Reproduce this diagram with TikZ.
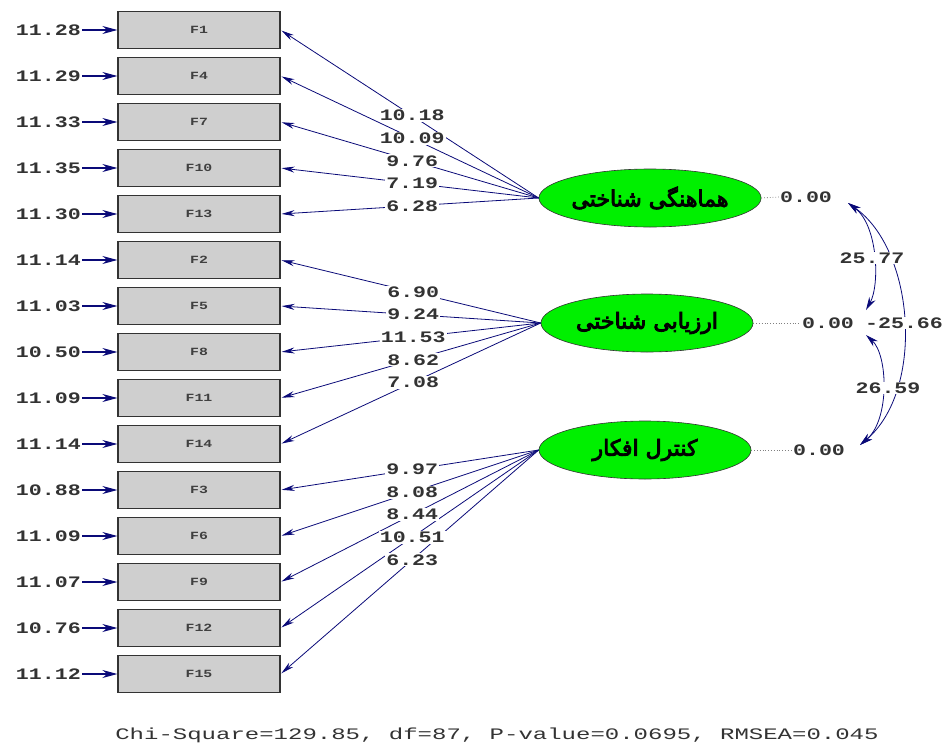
\documentclass[tikz,border=0pt]{standalone}
\usepackage{fontspec}
\usetikzlibrary{arrows.meta,shapes.geometric,calc}
\TeXXeTstate=1
\newfontfamily\arabicfont[Script=Arabic,FakeBold=4]{DejaVu Sans}
\newfontfamily\lisfont[FakeStretch=1.35]{Liberation Mono}
\newfontfamily\statfont[FakeStretch=1.5]{Liberation Mono}
\definecolor{lnavy}{RGB}{10,10,120}
\definecolor{lgreen}{RGB}{0,240,0}
\begin{document}
\begin{tikzpicture}[x=1pt,y=-1pt,
  obs/.style={draw=black!80, line width=1.2pt, fill=gray!38, minimum width=162pt, minimum height=37pt, inner sep=0pt, font=\lisfont\bfseries\fontsize{11}{11}\selectfont, text=black!75},
  lat/.style={ellipse, draw=black!80, line width=0.6pt, fill=lgreen, minimum width=212pt, minimum height=58pt, inner sep=0pt, font=\arabicfont\fontsize{22}{22}\selectfont},
  num/.style={font=\lisfont\bfseries\fontsize{16}{16}\selectfont, text=black!80, inner sep=1pt},
  numbg/.style={num, fill=white},
  load/.style={draw=lnavy, line width=0.8pt, -{Stealth[length=13pt,width=6pt]}, shorten >=1pt},
  err/.style={draw=lnavy, line width=1.3pt, -{Stealth[length=15pt,width=8pt]}},
  cov/.style={draw=lnavy, line width=0.8pt, {Stealth[length=13pt,width=7pt]}-{Stealth[length=13pt,width=7pt]}},
  zline/.style={draw=gray, dotted, line width=0.8pt}
]
\useasboundingbox (0,0) rectangle (948,747);

% observed variables and error terms
\foreach \n/\e [count=\i from 0] in {1/11.28,4/11.29,7/11.33,10/11.35,13/11.30,2/11.14,5/11.03,8/10.50,11/11.09,14/11.14,3/10.88,6/11.09,9/11.07,12/10.76,15/11.12}{
  \node[obs] (F\n) at (199,{30+46*\i}) {F\n};
  \node[num, anchor=east] (e\n) at (82,{30+46*\i}) {\e};
  \draw[err] (e\n.east) -- (F\n.west);
}

% latent variables
\node[lat] (K1) at (650,198) {\mbox{\beginR هماهنگی شناختی\endR}};
\node[lat] (K2) at (647,323) {\mbox{\beginR ارزیابی شناختی\endR}};
\node[lat] (K3) at (645,450) {\mbox{\beginR کنترل افکار\endR}};

% loadings: lines
\foreach \n in {1,4,7,10,13}{\draw[load] (K1.west) -- (F\n.east);}
\foreach \n in {2,5,8,11,14}{\draw[load] (K2.west) -- (F\n.east);}
\foreach \n in {3,6,9,12,15}{\draw[load] (K3.west) -- (F\n.east);}

% loadings: labels
\foreach \n/\v in {1/10.18,4/10.09,7/9.76,10/7.19,13/6.28}{\node[numbg] (l\n) at ($(K1.west)!0.49!(F\n.east)$) {\v};}
\foreach \n/\v in {2/6.90,5/9.24,8/11.53,11/8.62,14/7.08}{\node[numbg] (l\n) at ($(K2.west)!0.49!(F\n.east)$) {\v};}
\foreach \n/\v in {3/9.97,6/8.08,9/8.44,12/10.51,15/6.23}{\node[numbg] (l\n) at ($(K3.west)!0.49!(F\n.east)$) {\v};}

% variances of latent variables
\node[num] (z1) at (806,197) {0.00};
\node[num] (z2) at (828,323) {0.00};
\node[num] (z3) at (819,450) {0.00};
\draw[zline] (K1.east) -- (z1.west);
\draw[zline] (K2.east) -- (z2.west);
\draw[zline] (K3.east) -- (z3.west);

% covariances
\coordinate (a1) at (848,203);
\coordinate (a2) at (866,310);
\coordinate (a3) at (866,335);
\coordinate (a4) at (860,445);
\draw[cov] (a1) .. controls (878,225) and (880,285) .. (a2);
\draw[cov] (a1) .. controls (915,250) and (925,390) .. (a4);
\draw[cov] (a3) .. controls (888,355) and (890,420) .. (a4);
\node[numbg] (c12) at (872,258) {25.77};
\node[numbg] (c13) at (904,323) {-25.66};
\node[numbg] (c23) at (888,388) {26.59};

% fit statistics
\node[font=\statfont\fontsize{16}{16}\selectfont, text=black!80] (stat) at (497,735) {Chi-Square=129.85, df=87, P-value=0.0695, RMSEA=0.045};
\end{tikzpicture}
\end{document}
